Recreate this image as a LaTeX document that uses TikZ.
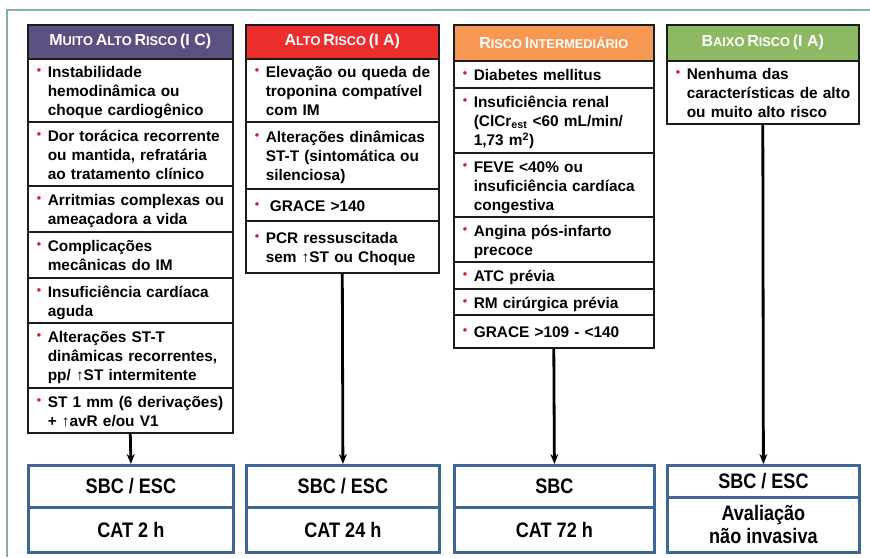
\documentclass[tikz,border=0pt]{standalone}
\usepackage{fontspec}
\setmainfont{Liberation Sans}
\newfontfamily\narrowfont[FakeStretch=0.86]{Liberation Sans}
\usetikzlibrary{arrows.meta}
\definecolor{frameC}{RGB}{125,180,158}
\definecolor{purpC}{RGB}{92,80,128}
\definecolor{redC}{RGB}{236,46,46}
\definecolor{orC}{RGB}{246,152,84}
\definecolor{grC}{RGB}{141,185,101}
\definecolor{bulC}{RGB}{214,32,40}
\definecolor{blueC}{RGB}{62,102,148}
\definecolor{edgeC}{RGB}{28,28,28}
\newcommand\bodyfont{\fontsize{15.4}{19}\selectfont\bfseries}
\newcommand\outfont{\narrowfont\bfseries\fontsize{21}{23}\selectfont}
\newcommand\SC[2]{{\fontsize{16}{18}\selectfont #1}{\fontsize{12.8}{14}\selectfont #2}}
\newcommand\bul[1]{\noindent\raisebox{-2.5pt}[\height][\depth]{\makebox[11pt][l]{\textcolor{bulC}{\raisebox{3pt}{\fontsize{12.5}{12}\selectfont\textbullet}}}\begin{tabular}[t]{@{}l@{}}#1\end{tabular}}}
\begin{document}
\begin{tikzpicture}[x=1pt,y=1pt,
  hdr/.style={draw=edgeC,line width=1.6pt,anchor=north west,inner sep=0pt,text=white,align=center,font=\bfseries},
  cellbox/.style={draw=edgeC,line width=1.6pt,anchor=north west,inner xsep=9pt,inner ysep=0pt,align=left,font=\bodyfont},
  col1/.style={cellbox,minimum width=205pt,text width=187pt},
  col2/.style={cellbox,minimum width=193pt,text width=175pt},
  col3/.style={cellbox,minimum width=200pt,text width=182pt},
  col4/.style={cellbox,minimum width=192pt,text width=174pt},
  outbox/.style={draw=blueC,line width=2.8pt,anchor=north west,inner sep=0pt,align=center,font=\outfont},
  arr/.style={-{Stealth[length=10pt,width=8pt]},line width=2.8pt,draw=black}]
\useasboundingbox (0,0) rectangle (870,-557);
% frame
\draw[frameC,line width=2.5pt] (870,-10) -- (7,-10) -- (7,-557);
% column 1
\node[hdr,fill=purpC,minimum width=205pt,minimum height=34pt] (m0) at (27,-24) {\SC{M}{UITO} \SC{A}{LTO} \SC{R}{ISCO} {\fontsize{16}{18}\selectfont (I C)}};
\node[col1,minimum height=63pt] (m1) at (27,-58) {\bul{Instabilidade\\hemodinâmica ou\\choque cardiogênico}};
\node[col1,minimum height=64pt] (m2) at (27,-121) {\bul{Dor torácica recorrente\\ou mantida, refratária\\ao tratamento clínico}};
\node[col1,minimum height=46pt] (m3) at (27,-185) {\bul{Arritmias complexas ou\\ameaçadora a vida}};
\node[col1,minimum height=46pt] (m4) at (27,-231) {\bul{Complicações\\mecânicas do IM}};
\node[col1,minimum height=45pt] (m5) at (27,-277) {\bul{Insuficiência cardíaca\\aguda}};
\node[col1,minimum height=65pt] (m6) at (27,-322) {\bul{Alterações ST-T\\dinâmicas recorrentes,\\pp/ ↑ST intermitente}};
\node[col1,minimum height=45pt] (m7) at (27,-387) {\bul{ST 1 mm (6 derivações)\\+ ↑avR e/ou V1}};
% column 2
\node[hdr,fill=redC,minimum width=193pt,minimum height=34pt] (a0) at (245,-24) {\SC{A}{LTO} \SC{R}{ISCO} {\fontsize{16}{18}\selectfont (I A)}};
\node[col2,minimum height=63pt] (a1) at (245,-58) {\bul{Elevação ou queda de\\troponina compatível\\com IM}};
\node[col2,minimum height=67pt] (a2) at (245,-121) {\bul{Alterações dinâmicas\\ST-T (sintomática ou\\silenciosa)}};
\node[col2,minimum height=32pt] (a3) at (245,-188) {\bul{\hspace{4pt}GRACE >140}};
\node[col2,minimum height=52pt] (a4) at (245,-220) {\bul{PCR ressuscitada\\sem ↑ST ou Choque}};
% column 3
\node[hdr,fill=orC,minimum width=200pt,minimum height=36pt] (r0) at (453,-24) {\SC{R}{ISCO} \SC{I}{NTERMEDIÁRIO}};
\node[col3,minimum height=27pt] (r1) at (453,-60) {\bul{Diabetes mellitus}};
\node[col3,minimum height=65pt] (r2) at (453,-87) {\bul{Insuficiência renal\\(ClCr\textsubscript{est} <60 mL/min/\\1,73 m\textsuperscript{2})}};
\node[col3,minimum height=64pt] (r3) at (453,-152) {\bul{FEVE <40\% ou\\insuficiência cardíaca\\congestiva}};
\node[col3,minimum height=45pt] (r4) at (453,-216) {\bul{Angina pós-infarto\\precoce}};
\node[col3,minimum height=27pt] (r5) at (453,-261) {\bul{ATC prévia}};
\node[col3,minimum height=26pt] (r6) at (453,-288) {\bul{RM cirúrgica prévia}};
\node[col3,minimum height=33pt] (r7) at (453,-314) {\bul{GRACE >109 - <140}};
% column 4
\node[hdr,fill=grC,minimum width=192pt,minimum height=36pt] (g0) at (666,-24) {\SC{B}{AIXO} \SC{R}{ISCO} {\fontsize{16}{18}\selectfont (I A)}};
\node[col4,minimum height=63pt] (g1) at (666,-60) {\bul{Nenhuma das\\características de alto\\ou muito alto risco}};
% outcome boxes
\node[outbox,minimum width=205pt,minimum height=42pt] (o1t) at (27,-464) {SBC / ESC};
\node[outbox,minimum width=205pt,minimum height=45pt] (o1b) at (27,-506) {CAT 2 h};
\node[outbox,minimum width=193pt,minimum height=42pt] (o2t) at (245,-464) {SBC / ESC};
\node[outbox,minimum width=193pt,minimum height=45pt] (o2b) at (245,-506) {CAT 24 h};
\node[outbox,minimum width=200pt,minimum height=42pt] (o3t) at (453,-464) {SBC};
\node[outbox,minimum width=200pt,minimum height=45pt] (o3b) at (453,-506) {CAT 72 h};
\node[outbox,minimum width=192pt,minimum height=32pt] (o4t) at (666,-464) {SBC / ESC};
\node[outbox,minimum width=192pt,minimum height=55pt] (o4b) at (666,-496) {Avaliação\\não invasiva};
% arrows
\draw[arr] (m7.south) -- (o1t.north);
\draw[arr] (a4.south) -- (o2t.north);
\draw[arr] (r7.south) -- (o3t.north);
\draw[arr] (g1.south) -- (o4t.north);
\end{tikzpicture}
\end{document}
